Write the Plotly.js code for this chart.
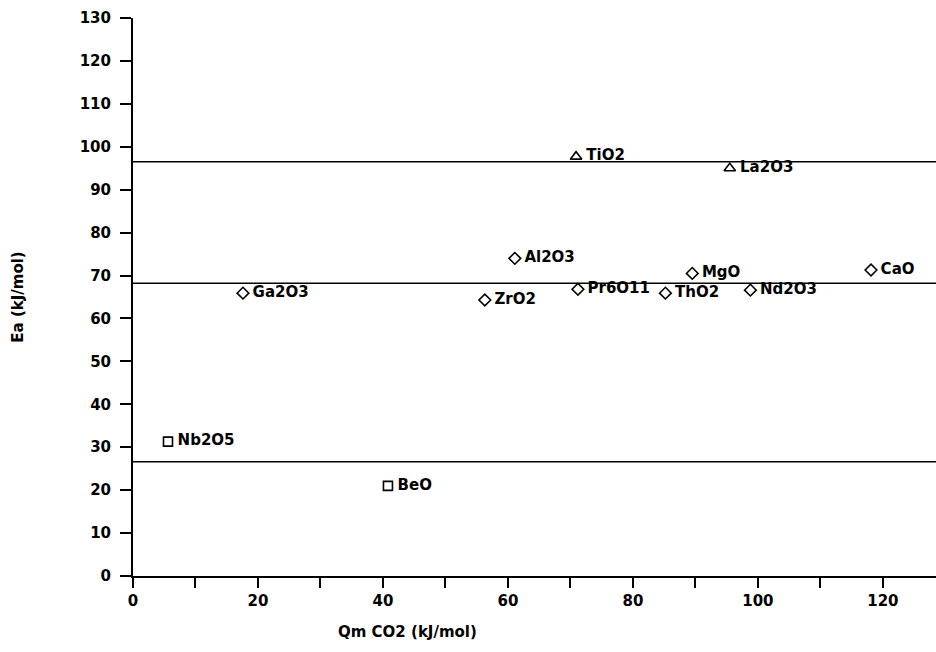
<!DOCTYPE html>
<html>
<head>
<meta charset="utf-8">
<script src="https://cdn.plot.ly/plotly-3.0.1.min.js"></script>
<style>html,body{margin:0;padding:0;background:#fff;}#chart{width:936px;height:652px;}</style>
</head>
<body>
<div id="chart"></div>
<script>
// Diamond group
const diaNames = ["Ga2O3", "ZrO2", "Al2O3", "Pr6O11", "ThO2", "MgO", "Nd2O3", "CaO"];
const diaX = [17.6, 56.3, 61.1, 71.2, 85.2, 89.5, 98.8, 118.1];
const diaY = [65.9, 64.3, 74.0, 66.8, 65.9, 70.5, 66.6, 71.3];
// Triangle group
const triNames = ["TiO2", "La2O3"];
const triX = [70.9, 95.5];
const triY = [97.7, 95.0];
// Square group
const sqNames = ["Nb2O5", "BeO"];
const sqX = [5.6, 40.8];
const sqY = [31.3, 21.0];
// Horizontal mean lines
const levels = [96.5, 68.2, 26.6];
// Axis ticks
const xTickVals = [0, 10, 20, 30, 40, 50, 60, 70, 80, 90, 100, 110, 120];
const xTickText = ["0", "", "20", "", "40", "", "60", "", "80", "", "100", "", "120"];
const yTickVals = [0, 10, 20, 30, 40, 50, 60, 70, 80, 90, 100, 110, 120, 130];

const FONT = "DejaVu Sans, Arial, sans-serif";
const lblFont = {family: FONT, size: 15, color: "#000", weight: "bold"};

function group(x, y, names, symbol, size) {
  return {
    type: "scatter", mode: "markers+text", x: x, y: y, text: names.map(s => "\u2009" + s),
    textposition: "middle right", textfont: lblFont, cliponaxis: false,
    marker: {symbol: symbol, size: size, color: "#000", line: {color: "#000", width: 1.6}},
    hoverinfo: "skip", showlegend: false
  };
}

const traces = [
  group(diaX, diaY, diaNames, "diamond-open", 9),
  group(triX, triY, triNames, "triangle-up-open", 10),
  group(sqX, sqY, sqNames, "square-open", 9)
];

const shapes = levels.map(v => ({
  type: "line", xref: "paper", x0: 0, x1: 1, yref: "y", y0: v, y1: v,
  line: {color: "#000", width: 1.5}
}));

const layout = {
  width: 936, height: 652,
  margin: {l: 133, r: 0, t: 18, b: 76},
  paper_bgcolor: "#fff", plot_bgcolor: "#fff",
  font: {family: FONT, color: "#000"},
  xaxis: {
    range: [0, 128.5], tickvals: xTickVals, ticktext: xTickText,
    showline: true, linecolor: "#000", linewidth: 2, showgrid: false, zeroline: false,
    ticks: "outside", ticklen: 10, tickwidth: 2, tickcolor: "#000",
    tickfont: {family: FONT, size: 15, weight: "bold", color: "#000"}
  },
  yaxis: {
    range: [0, 130], tickvals: yTickVals,
    showline: true, linecolor: "#000", linewidth: 2, showgrid: false, zeroline: false,
    ticks: "outside", ticklen: 11, tickwidth: 2, tickcolor: "#000", ticklabelstandoff: 6,
    tickfont: {family: FONT, size: 15, weight: "bold", color: "#000"},
    title: {text: "Ea (kJ/mol)", font: {family: FONT, size: 15, weight: "bold", color: "#000"}, standoff: 52}
  },
  shapes: shapes,
  annotations: [{
    text: "Qm CO2 (kJ/mol)", xref: "paper", yref: "paper",
    x: (407 - 133) / 803, y: -(632 - 576) / 558, xanchor: "center", yanchor: "middle",
    showarrow: false, font: {family: FONT, size: 15, weight: "bold", color: "#000"}
  }],
  showlegend: false
};

Plotly.newPlot("chart", traces, layout, {displayModeBar: false, staticPlot: true});
</script>
</body>
</html>
